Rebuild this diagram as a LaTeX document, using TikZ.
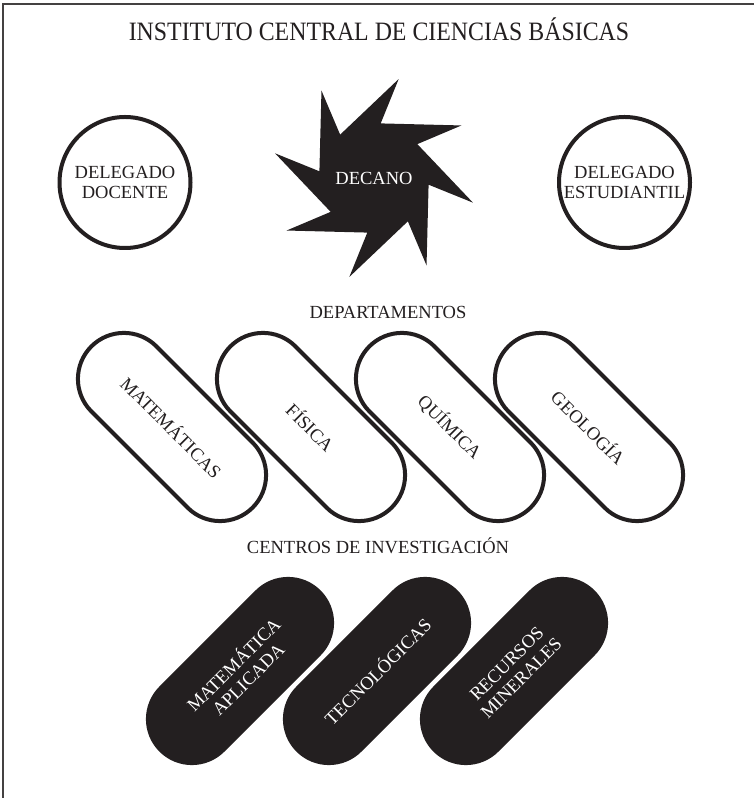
\documentclass[tikz,border=0pt]{standalone}
\usepackage{fontspec}
\setmainfont{Liberation Serif}
\usepackage{xcolor}
\usepackage{tikz}
\usetikzlibrary{shapes,arrows,positioning}
\definecolor{tinta}{HTML}{231F20}

\begin{document}
\begin{tikzpicture}[
    x=1pt, y=1pt,
    texto/.style={font=\fontsize{18.5}{20.5}\selectfont, align=center, text=tinta},
    delegado/.style={texto, circle, draw=tinta, line width=4pt, minimum size=131pt, inner sep=0pt},
    depto/.style={texto, rounded rectangle, draw=tinta, line width=4pt, minimum width=228pt, minimum height=92pt, inner sep=0pt, rotate=-45},
    centro/.style={texto, rounded rectangle, fill=tinta, text=white, minimum width=228pt, minimum height=92pt, inner sep=0pt, rotate=45}
]
    \useasboundingbox (0,0) rectangle (754,798);

    \draw[
        line width=1.5pt,
        color=tinta!85
    ] (3,0) -- (3,794) -- (754,794);

    \node[texto, anchor=base, font=\fontsize{26.5}{28}\selectfont] (titulo) at (379,757) {\scalebox{0.9}[1]{INSTITUTO CENTRAL DE CIENCIAS BÁSICAS}};

    \node[delegado] (docente) at (125,615.5) {DELEGADO\\DOCENTE};
    \node[delegado] (estudiantil) at (624.5,615.5) {DELEGADO\\ESTUDIANTIL};

    \begin{scope}[shift={(374,620)}]
        \fill[tinta] (-7:55) -- (-14:102)
            \foreach \a in {38,83,128,173,218,263,308} { -- (\a:55) -- (\a-7:102) } -- cycle;
    \end{scope}
    \node[texto, text=white] (decano) at (374,620) {DECANO};

    \node[texto, anchor=base] (deptos) at (388,479) {DEPARTAMENTOS};

    \node[depto] (mate) at (172,371) {MATEMÁTICAS};
    \node[depto] (fisica) at (311,371) {FÍSICA};
    \node[depto] (quimica) at (450,371) {QUÍMICA};
    \node[depto] (geologia) at (589,371) {GEOLOGÍA};

    \node[texto, anchor=base] (centros) at (378,244) {CENTROS DE INVESTIGACIÓN};

    \node[centro] (aplicada) at (240,127) {MATEMÁTICA\\APLICADA};
    \node[centro] (tecno) at (377,127) {TECNOLÓGICAS};
    \node[centro] (recursos) at (514,127) {RECURSOS\\MINERALES};

\end{tikzpicture}
\end{document}
